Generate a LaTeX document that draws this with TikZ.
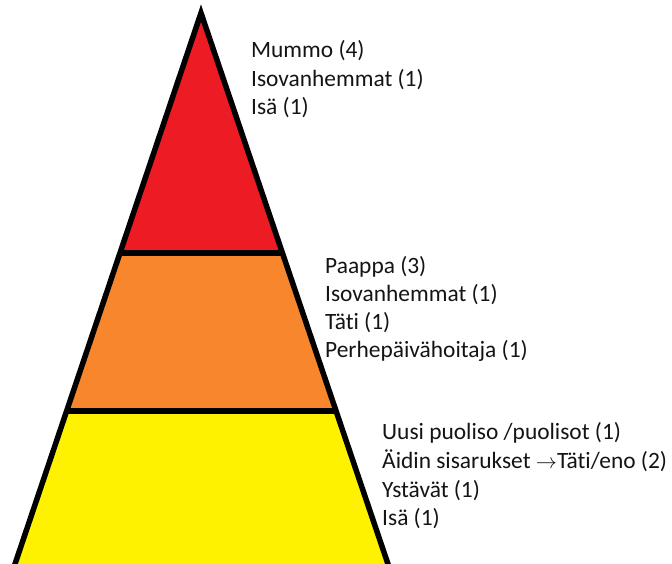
\documentclass[tikz,border=0pt]{standalone}
\usepackage{fontspec}
\setmainfont{Carlito}[Ligatures={NoCommon}]
\definecolor{pyrred}{RGB}{237,28,36}
\definecolor{pyrorange}{RGB}{248,134,44}
\definecolor{pyryellow}{RGB}{255,242,0}
\definecolor{txt}{RGB}{20,20,20}
\tikzset{
  band/.style={draw=none},
  edge/.style={draw=black, line width=5.5pt, line join=miter},
  lbl/.style={anchor=base west, inner sep=0pt, text=txt, font=\fontsize{23.4}{28}\selectfont}
}
\begin{document}
\begin{tikzpicture}[x=1pt,y=-1pt]
\useasboundingbox (0,0) rectangle (672,564);
\begin{scope}
\clip (0,0) rectangle (672,564);
% coordinates of the pyramid
\coordinate (apex) at (201,13);
\coordinate (l1) at (120,253);
\coordinate (r1) at (282.5,253);
\coordinate (l2) at (66.6,411);
\coordinate (r2) at (336.1,411);
\coordinate (l3) at (9.6,580);
\coordinate (r3) at (393.4,580);
% bands
\fill[band, pyrred] (apex) -- (r1) -- (l1) -- cycle;
\fill[band, pyrorange] (l1) -- (r1) -- (r2) -- (l2) -- cycle;
\fill[band, pyryellow] (l2) -- (r2) -- (r3) -- (l3) -- cycle;
% dividers
\draw[edge] (l1) -- (r1);
\draw[edge] (l2) -- (r2);
% outline
\draw[edge] (l3) -- (apex) -- (r3);
\end{scope}
% labels, top block
\node[lbl] (a1) at (251,58) {Mummo (4)};
\node[lbl] (a2) at (251,86.5) {Isovanhemmat (1)};
\node[lbl] (a3) at (251,115) {Isä (1)};
% labels, middle block
\node[lbl] (b1) at (325,273) {Paappa (3)};
\node[lbl] (b2) at (325,301) {Isovanhemmat (1)};
\node[lbl] (b3) at (325,329) {Täti (1)};
\node[lbl] (b4) at (325,357) {Perhepäivähoitaja (1)};
% labels, bottom block
\node[lbl] (c1) at (382,439) {Uusi puoliso /puolisot (1)};
\node[lbl] (c2) at (382,468) {Äidin sisarukset \scalebox{0.85}{$\rightarrow$}Täti/eno (2)};
\node[lbl] (c3) at (382,497) {Ystävät (1)};
\node[lbl] (c4) at (382,525) {Isä (1)};
\end{tikzpicture}
\end{document}
